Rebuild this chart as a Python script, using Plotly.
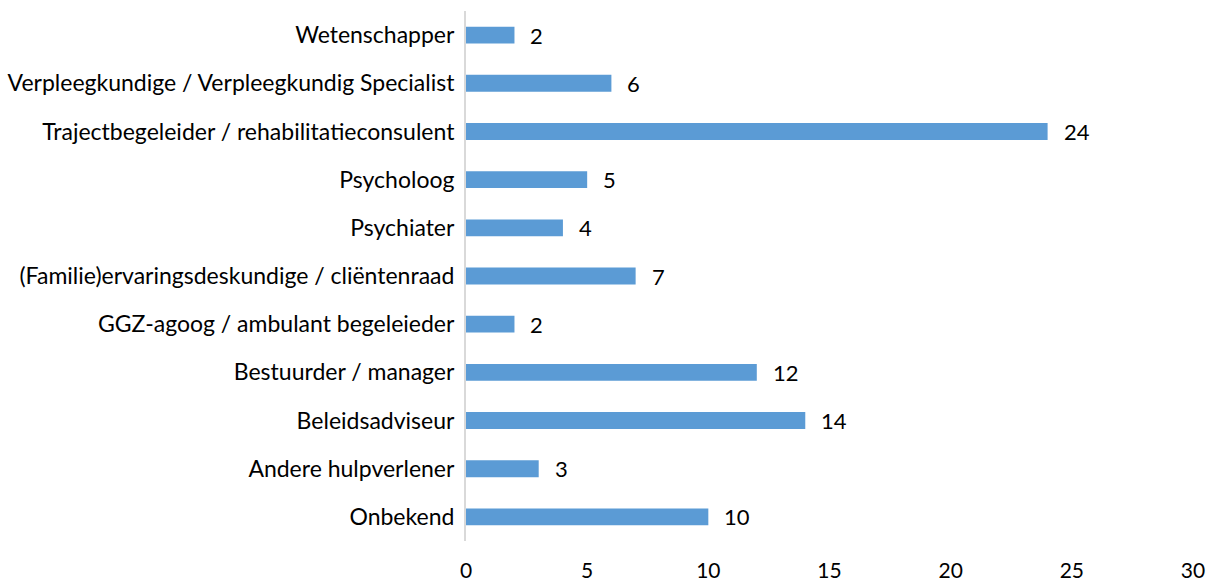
import plotly.graph_objects as go

categories = [
    "Onbekend",
    "Andere hulpverlener",
    "Beleidsadviseur",
    "Bestuurder / manager",
    "GGZ-agoog / ambulant begeleieder",
    "(Familie)ervaringsdeskundige / cliëntenraad",
    "Psychiater",
    "Psycholoog",
    "Trajectbegeleider / rehabilitatieconsulent",
    "Verpleegkundige / Verpleegkundig Specialist",
    "Wetenschapper",
]
values = [10, 3, 14, 12, 2, 7, 4, 5, 24, 6, 2]
x_ticks = [0, 5, 10, 15, 20, 25, 30]

FONT = "Lato"

fig = go.Figure()
fig.add_trace(go.Bar(
    x=values,
    y=categories,
    orientation="h",
    marker=dict(color="#5B9BD5", line=dict(width=0)),
    hoverinfo="x+y",
))

for v, c in zip(values, categories):
    fig.add_annotation(
        x=v, y=c, text=str(v), showarrow=False,
        xanchor="left", yanchor="middle", xshift=14,
        font=dict(family=FONT, size=22, color="#000000"),
    )

fig.update_layout(
    width=1211, height=585,
    margin=dict(l=466, r=18, t=11, b=44, autoexpand=False),
    paper_bgcolor="white", plot_bgcolor="white",
    bargap=0.65,
    showlegend=False,
    font=dict(family=FONT, color="#000000"),
)
fig.update_xaxes(
    range=[0, 30], tickvals=x_ticks, showgrid=False, zeroline=False,
    showline=False, ticks="", ticklabelstandoff=15, automargin=False,
    ticklabeloverflow="allow",
    tickfont=dict(family=FONT, size=21, color="#000000"),
)
fig.update_yaxes(
    categoryorder="array", categoryarray=categories,
    showgrid=False, zeroline=False, showline=True, automargin=False,
    linecolor="#D9D9D9", linewidth=2, ticks="", ticklabelstandoff=5,
    tickfont=dict(family=FONT, size=23, color="#000000"),
)

# remove the default 8px body margin so the figure fills the window exactly
fig.write_html(
    "out.html",
    config={"displayModeBar": False},
    post_script="document.body.style.margin='0';",
)
